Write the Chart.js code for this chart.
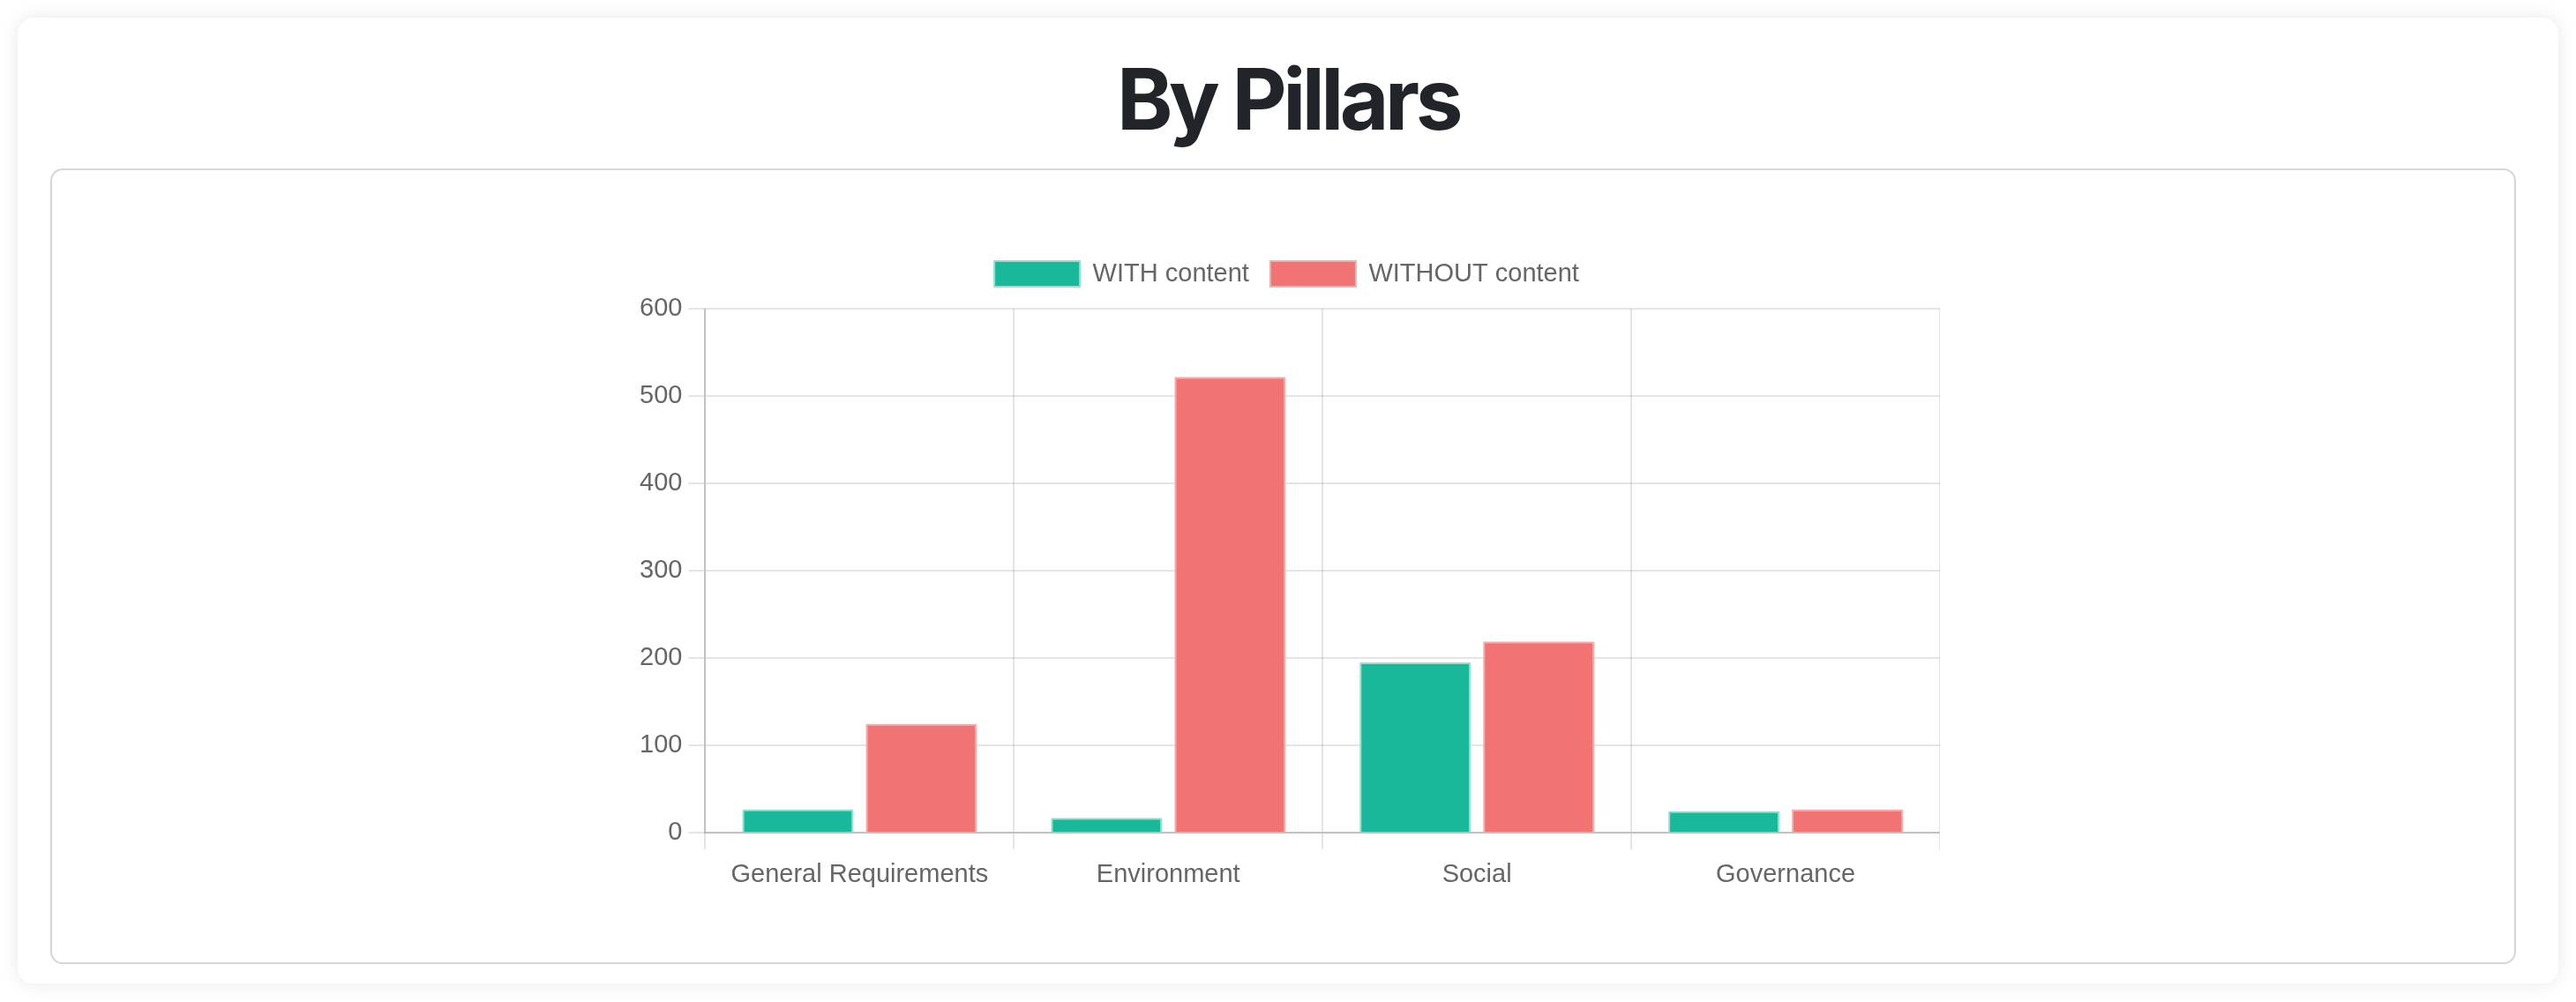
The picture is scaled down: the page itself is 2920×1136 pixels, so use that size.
<!DOCTYPE html>
<html>
<head>
<meta charset="utf-8">
<title>By Pillars</title>
<script src="https://cdn.jsdelivr.net/npm/chart.js@4.4.1/dist/chart.umd.min.js"></script>
<style>
  html, body { margin: 0; padding: 0; background: #fff; }
  body { width: 2920px; height: 1136px; position: relative; overflow: hidden; }
  .card {
    position: absolute; left: 20px; top: 20px; width: 2880px; height: 1095px;
    background: #fff; border-radius: 18px;
    box-shadow: 0 0 22px rgba(0, 0, 0, 0.09);
  }
  h1 {
    position: absolute; left: 0; top: 44px; width: 2880px; margin: 0;
    text-align: center; font-family: Inter, "Noto Sans", sans-serif;
    font-weight: 700; font-size: 96px; line-height: 96px;
    letter-spacing: -0.047em; color: #212529;
  }
  .inner {
    position: absolute; left: 37px; top: 171px; width: 2791px; height: 898px;
    border: 2px solid #d6d6d6; border-radius: 14px; background: #fff;
  }
  .chart-box { position: absolute; left: 659px; top: 79px; width: 1481px; height: 748px; }
</style>
</head>
<body>
<div class="card">
  <h1>By Pillars</h1>
  <div class="inner">
    <div class="chart-box"><canvas id="pillars-chart"></canvas></div>
  </div>
</div>
<script>
// data
const pillars = ["General Requirements", "Environment", "Social", "Governance"];
const withContent = [27, 17, 195, 25];
const withoutContent = [125, 522, 219, 27];
const yMin = 0;
const yMax = 600;
const yStep = 100;

Chart.defaults.color = "#666";
Chart.defaults.font.family = "'Liberation Sans', Arial, sans-serif";
Chart.defaults.font.size = 29;

// a bit more room between legend and plot
const legendMargin = {
    id: "legendMargin",
    beforeInit(chart) {
        const fit = chart.legend.fit;
        chart.legend.fit = function () {
            fit.bind(chart.legend)();
            this.height += 15;
        };
    }
};

let pillarsId = document.getElementById("pillars-chart");

let PillarsChart = new Chart(pillarsId, {
    type: "bar",
    data: {
        labels: pillars,
        datasets: [
            {
                label: "WITH content",
                data: withContent,
                backgroundColor: "rgb(26, 184, 154)",
                borderColor: "rgb(150, 222, 208)",
                borderWidth: 2
            },
            {
                label: "WITHOUT content",
                data: withoutContent,
                backgroundColor: "rgb(242, 115, 115)",
                borderColor: "rgb(248, 172, 172)",
                borderWidth: 2
            }
        ]
    },
    options: {
        responsive: true,
        maintainAspectRatio: false,
        animation: false,
        plugins: {
            legend: {
                labels: { boxWidth: 97, boxHeight: 29, padding: 24 }
            },
            tooltip: { enabled: false }
        },
        scales: {
            x: {
                grid: { color: "rgba(0,0,0,0.1)", lineWidth: 2, tickLength: 19 },
                border: { color: "rgba(0,0,0,0.16)", width: 2 },
                ticks: { padding: 11 }
            },
            y: {
                min: yMin,
                max: yMax,
                grid: { color: "rgba(0,0,0,0.1)", lineWidth: 2, tickLength: 19 },
                border: { color: "rgba(0,0,0,0.16)", width: 2 },
                ticks: { stepSize: yStep, padding: 7 }
            }
        }
    },
    plugins: [legendMargin]
});
</script>
</body>
</html>
